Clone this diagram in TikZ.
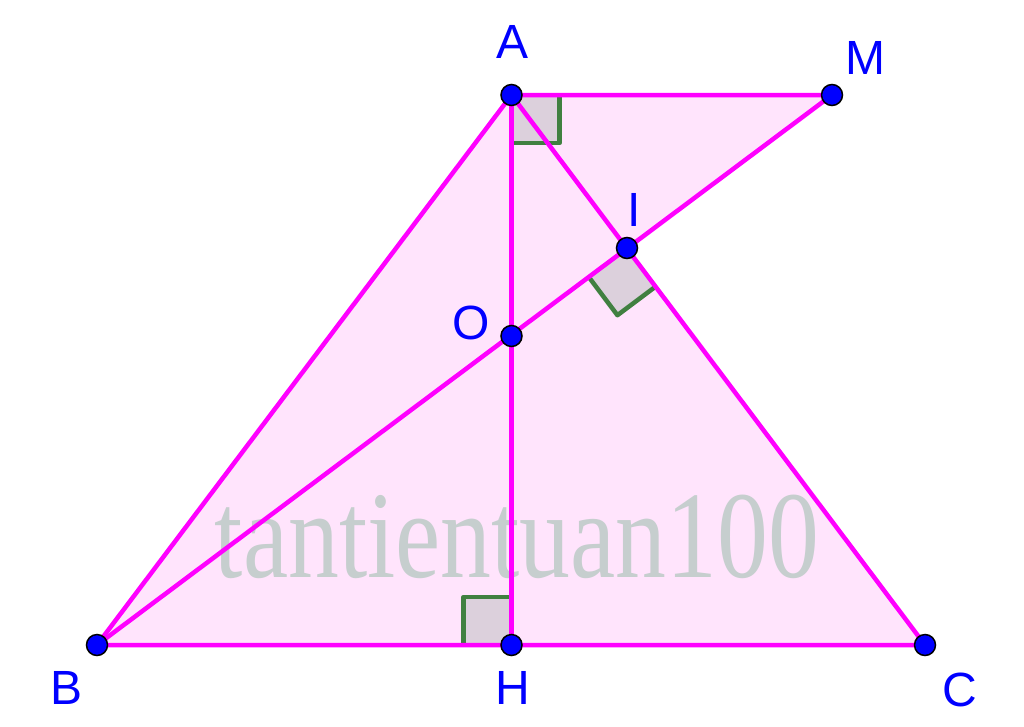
\documentclass[tikz,border=0pt]{standalone}
\usepackage{fontspec}
\usetikzlibrary{calc}
\setmainfont{Liberation Sans}
\newfontfamily\wmfont{Liberation Serif}
\definecolor{mag}{RGB}{255,0,255}
\definecolor{pinkfill}{RGB}{255,228,252}
\definecolor{angfill}{RGB}{220,208,220}
\definecolor{anggreen}{RGB}{64,128,64}
\definecolor{ptblue}{RGB}{0,0,255}
\definecolor{wmgray}{RGB}{198,206,206}
\tikzset{
  seg/.style={draw=mag,line width=4.5pt},
  pt/.style={circle,fill=ptblue,draw=black,line width=1.5pt,minimum size=21pt,inner sep=0pt},
  lbl/.style={text=ptblue,font=\fontsize{48}{48}\selectfont,inner sep=0pt},
  angbox/.style={fill=angfill},
  angedge/.style={draw=anggreen,line width=4.5pt,line join=round}
}
\begin{document}
\begin{tikzpicture}[x=1pt,y=-1pt]
\useasboundingbox (0,0) rectangle (1024,726);
\coordinate (A) at (511.5,95);
\coordinate (M) at (832,95);
\coordinate (I) at (627,248);
\coordinate (O) at (511.5,336);
\coordinate (B) at (97,645);
\coordinate (H) at (511.5,645);
\coordinate (C) at (925,645);
% fills
\fill[pinkfill] (A) -- (B) -- (C) -- cycle;
\fill[pinkfill] (A) -- (M) -- (I) -- cycle;
% right angle marks
\fill[angbox] (511.5,95) rectangle (559.5,143);
\draw[angedge] (559.5,95) -- (559.5,143) -- (511.5,143);
\fill[angbox] (463.5,597) rectangle (511.5,645);
\draw[angedge] (463.5,645) -- (463.5,597) -- (511.5,597);
\fill[angbox] (I) -- ++(-38.4,28.8) -- ++(28.8,38.4) -- ++(38.4,-28.8) -- cycle;
\draw[angedge] ($(I)+(-38.4,28.8)$) -- ++(28.8,38.4) -- ++(38.4,-28.8);
% watermark
\node[anchor=base,text=wmgray,font=\wmfont\fontsize{124}{124}\selectfont,xscale=0.82,inner sep=0pt] (wm) at (517,577) {tantientuan100};
% segments
\draw[seg] (A) -- (B) -- (C) -- cycle;
\draw[seg] (A) -- (M) -- (B);
\draw[seg] (A) -- (H);
% points
\foreach \p in {A,M,I,O,B,H,C} \node[pt] (p\p) at (\p) {};
% labels
\node[lbl] (lA) at (512,42) {A};
\node[lbl] (lM) at (865,58) {M};
\node[lbl] (lI) at (634,210) {I};
\node[lbl] (lO) at (471,323) {O};
\node[lbl] (lB) at (67,688) {B};
\node[lbl] (lH) at (513,688) {H};
\node[lbl] (lC) at (960,690) {C};
\end{tikzpicture}
\end{document}
